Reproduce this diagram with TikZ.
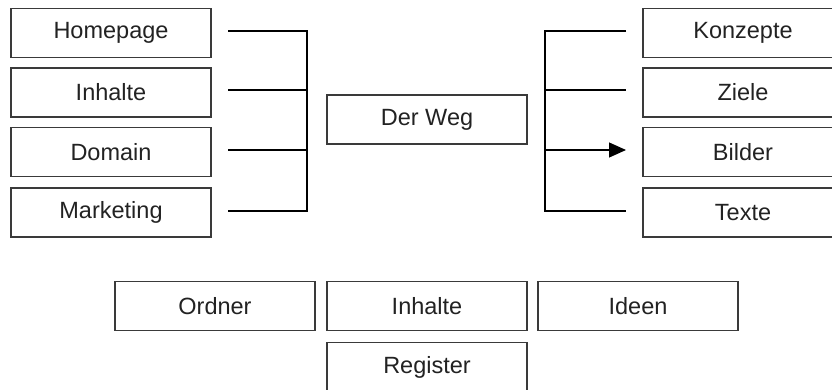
\documentclass[tikz,border=0pt]{standalone}
\usepackage{fontspec}
\setmainfont{Liberation Sans}
\usetikzlibrary{arrows.meta}
\definecolor{boxline}{HTML}{3A3A3A}
\definecolor{txt}{HTML}{222222}
\begin{document}
\begin{tikzpicture}[x=1pt,y=-1pt,
  box/.style={draw=boxline,line width=1.3pt,minimum width=200pt,minimum height=49pt,inner sep=0pt,
    text=txt,font=\fontsize{23.5}{26}\selectfont},
  conn/.style={draw=black,line width=1.2pt},
  arr/.style={conn,-{Triangle[length=17pt,width=15pt]}}]
\useasboundingbox (0,0) rectangle (832,390);
\clip (0,0) rectangle (832,390);
% left column
\node[box] (hp) at (111,33) {Homepage};
\node[box] (inl) at (111,92.5) {Inhalte};
\node[box] (dom) at (111,152) {Domain};
\node[box] (mkt) at (111,212.5) {Marketing};
% center
\node[box] (weg) at (427,119.5) {Der Weg};
% right column
\node[box] (kon) at (743,33) {Konzepte};
\node[box] (zie) at (743,92.5) {Ziele};
\node[box] (bil) at (743,152) {Bilder};
\node[box] (tex) at (743,212.5) {Texte};
% bottom
\node[box] (ord) at (215,306) {Ordner};
\node[box] (inb) at (427,306) {Inhalte};
\node[box] (ide) at (638,306) {Ideen};
\node[box] (reg) at (427,367) {Register};
% left bracket coordinates
\coordinate (l1) at (228,31);
\coordinate (l2) at (228,90);
\coordinate (l3) at (228,150);
\coordinate (l4) at (228,211);
\coordinate (lv1) at (307,31);
\coordinate (lv2) at (307,90);
\coordinate (lv3) at (307,150);
\coordinate (lv4) at (307,211);
\draw[conn] (l1) -- (lv1) -- (lv4) -- (l4);
\draw[conn] (l2) -- (lv2);
\draw[conn] (l3) -- (lv3);
% right bracket coordinates
\coordinate (rv1) at (545,31);
\coordinate (rv2) at (545,90);
\coordinate (rv3) at (545,150);
\coordinate (rv4) at (545,211);
\coordinate (r1) at (626,31);
\coordinate (r2) at (626,90);
\coordinate (r3) at (626,150);
\coordinate (r4) at (626,211);
\draw[conn] (r1) -- (rv1) -- (rv4) -- (r4);
\draw[conn] (rv2) -- (r2);
\draw[arr] (rv3) -- (r3);
\end{tikzpicture}
\end{document}
